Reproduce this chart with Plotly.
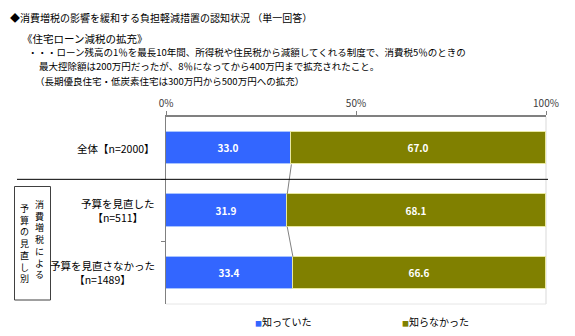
import plotly.graph_objects as go

# Survey groups and response shares (%)
groups = ["全体【n=2000】", "予算を見直した<br>【n=511】", "予算を見直さなかった<br>【n=1489】"]
knew = [33.0, 31.9, 33.4]
did_not_know = [67.0, 68.1, 66.6]
series_names = ["知っていた", "知らなかった"]
x_ticks = [0, 50, 100]
x_tick_labels = ["0%", "50%", "100%"]

title_lines = [
    "◆消費増税の影響を緩和する負担軽減措置の認知状況 （単一回答）",
    "《住宅ローン減税の拡充》",
    "・・・ローン残高の1％を最長10年間、所得税や住民税から減額してくれる制度で、消費税5％のときの",
    "最大控除額は200万円だったが、8％になってから400万円まで拡充されたこと。",
    "（長期優良住宅・低炭素住宅は300万円から500万円への拡充）",
]
group_caption_right = "消費増税による"
group_caption_left = "予算の見直し別"

BLUE = "#3366FF"
OLIVE = "#808000"
FONT = "Noto Sans CJK JP"
W, H = 575, 336
ML, MR, MT, MB = 166, 29, 117, 32
BAR_W = 0.52

pos = list(range(len(groups)))

fig = go.Figure()
fig.add_trace(go.Bar(
    y=pos, x=knew, orientation="h", name=series_names[0], width=BAR_W,
    marker=dict(color=BLUE, line=dict(color="#A9C4FF", width=1)),
    text=[f"{v:.1f}" for v in knew], textposition="inside", insidetextanchor="middle",
    textfont=dict(color="white", size=10, family=FONT, weight="bold"),
))
fig.add_trace(go.Bar(
    y=pos, x=did_not_know, orientation="h", name=series_names[1], width=BAR_W,
    marker=dict(color=OLIVE, line=dict(color="#E8E8A0", width=1)),
    text=[f"{v:.1f}" for v in did_not_know], textposition="inside", insidetextanchor="middle",
    textfont=dict(color="white", size=10, family=FONT, weight="bold"),
))

# Series lines joining the ends of the blue segments
for i in range(len(pos) - 1):
    fig.add_trace(go.Scatter(
        x=[knew[i], knew[i + 1]],
        y=[pos[i] + BAR_W / 2, pos[i + 1] - BAR_W / 2],
        mode="lines", line=dict(color="#808080", width=1),
        hoverinfo="skip", showlegend=False,
    ))


def px_x(px):
    return (px - ML) / (W - ML - MR)


def px_y(py):
    return (H - MB - py) / (H - MT - MB)


annotations = []

# Header text
header_pos = [(8, 17, 10), (20, 38, 10.5), (26, 52, 9.5), (37, 66, 9.5), (33, 81, 9.5)]
for txt, (px, py, fs) in zip(title_lines, header_pos):
    annotations.append(dict(
        text=txt, xref="paper", yref="paper", x=px_x(px), y=px_y(py),
        xanchor="left", yanchor="middle", showarrow=False,
        font=dict(size=fs, family=FONT, color="#000000"),
    ))

# Category labels (centred lines, block right-aligned)
for p, g in zip(pos, groups):
    annotations.append(dict(
        text=g, xref="paper", yref="y", x=px_x(157), y=p,
        xanchor="right", yanchor="middle", align="center", showarrow=False,
        font=dict(size=10.5, family=FONT, color="#000000"),
    ))

# Vertical caption inside the side box: one column per phrase, glyphs stacked
for txt, px, py in [(group_caption_right, 39, 239), (group_caption_left, 24, 243.5)]:
    annotations.append(dict(
        text="<br>".join(txt), xref="paper", yref="paper", x=px_x(px), y=px_y(py),
        xanchor="center", yanchor="middle", align="center", showarrow=False,
        borderpad=0, font=dict(size=9, family=FONT, color="#000000"),
    ))

# Legend entries
for name, color, px in [(series_names[0], BLUE, 253), (series_names[1], OLIVE, 400)]:
    annotations.append(dict(
        text=f"<span style='color:{color};font-size:7px'>■</span>{name}",
        xref="paper", yref="paper", x=px_x(px), y=px_y(321),
        xanchor="left", yanchor="middle", showarrow=False,
        font=dict(size=10, family=FONT, color="#000000"),
    ))

shapes = [
    # light frame on right and bottom
    dict(type="line", xref="paper", yref="paper", x0=1, x1=1, y0=0, y1=1,
         line=dict(color="#D9D9D9", width=1), layer="below"),
    dict(type="line", xref="paper", yref="paper", x0=0, x1=1, y0=0, y1=0,
         line=dict(color="#E6E6E6", width=1), layer="below"),
    # separator between total and breakdown
    dict(type="line", xref="paper", yref="y", x0=px_x(17), x1=px_x(548), y0=0.5, y1=0.5,
         line=dict(color="#000000", width=1)),
    # box around the vertical caption
    dict(type="rect", xref="paper", yref="paper", x0=px_x(14.5), x1=px_x(50.5),
         y0=px_y(300), y1=px_y(186.5), line=dict(color="#404040", width=1)),
]

fig.update_layout(
    width=W, height=H, barmode="stack", showlegend=False,
    margin=dict(l=ML, r=MR, t=MT, b=MB),
    plot_bgcolor="white", paper_bgcolor="white",
    font=dict(family=FONT, size=10, color="#000000"),
    annotations=annotations, shapes=shapes, bargap=0,
    xaxis=dict(
        side="top", range=[0, 100], tickvals=x_ticks, ticktext=x_tick_labels,
        showgrid=False, zeroline=False, showline=True, linecolor="#808080", linewidth=2,
        ticks="outside", ticklen=4, tickcolor="#808080", tickwidth=1,
        tickfont=dict(size=10, family=FONT, color="#404040"),
    ),
    yaxis=dict(
        range=[len(groups) - 0.5, -0.5], tickvals=[0.5, 1.5], showticklabels=False,
        showgrid=False, zeroline=False, showline=True, linecolor="#808080", linewidth=1,
        ticks="outside", ticklen=4, tickcolor="#808080",
    ),
)

fig.write_html("out.html")
